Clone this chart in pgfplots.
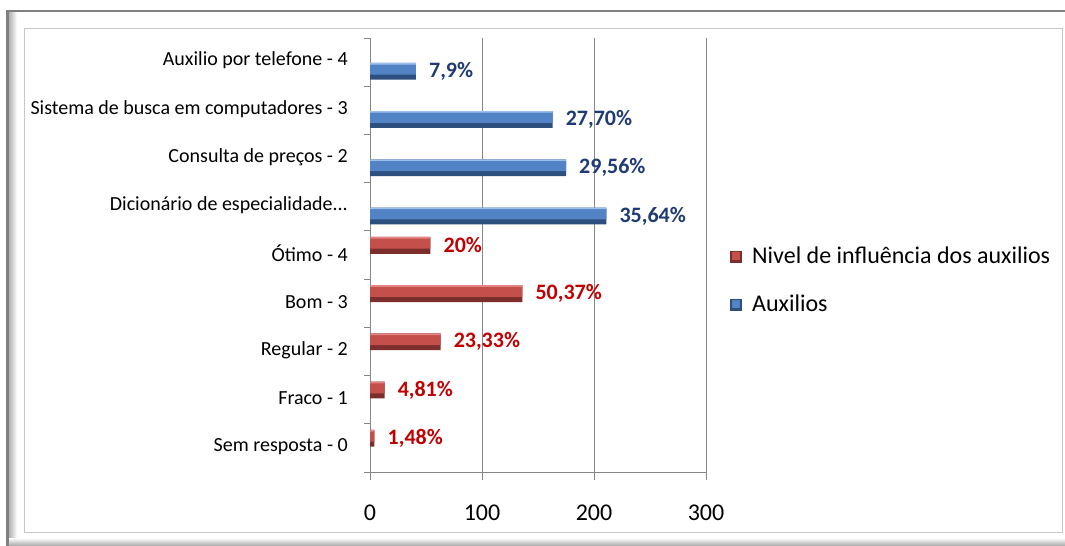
\documentclass[border=0pt]{standalone}
\usepackage{pgfplots}
\usepackage{pgfplotstable}
\pgfplotsset{compat=1.18}
\usepackage{fontspec}
\setmainfont{Carlito}
\definecolor{redlight}{HTML}{E48480}
\definecolor{redmid}{HTML}{C4504C}
\definecolor{reddark}{HTML}{7C2E2C}
\definecolor{bluelight}{HTML}{9BC0EE}
\definecolor{bluemid}{HTML}{5283C4}
\definecolor{bluedark}{HTML}{2C4F7E}
\definecolor{redlab}{HTML}{C00000}
\definecolor{bluelab}{HTML}{1F3B73}
\definecolor{gridc}{HTML}{878787}
\pgfplotstableread{
c v lab
0 4 1,48\%
1 13 4,81\%
2 63 23,33\%
3 136 50,37\%
4 54 20\%
}\redtab
\pgfplotstableread{
c v lab
5 211 35,64\%
6 175 29,56\%
7 163 27,70\%
8 41 7,9\%
}\bluetab
\begin{document}
\begin{tikzpicture}[x=1bp,y=1bp]
\fill[white] (0,0) rectangle (1065,-546);
\shade[left color=black!30, right color=white] (9,-12) rectangle (17,-546);
\shade[top color=white, bottom color=black!35] (9,-538) rectangle (1065,-546);
\fill[black!50] (6,-10) rectangle (1065,-12.5);
\fill[black!50] (6,-10) rectangle (9,-546);
\draw[black!22, line width=1bp] (24,-29) rectangle (1062,-532);
\begin{axis}[
  at={(370bp,-472bp)}, anchor=south west,
  scale only axis, width=336bp, height=434bp,
  xmin=0, xmax=300, ymin=-0.5, ymax=8.5,
  xbar,
  axis lines*=left,
  axis line style={gridc, line width=1bp},
  tick align=outside,
  xtick={0,100,200,300},
  /pgf/number format/assume math mode=true,
  xmajorgrids, major grid style={gridc, line width=1bp},
  major tick length=8bp, minor tick length=6bp,
  major x tick style={gridc, line width=1bp},
  major y tick style={draw=none},
  minor ytick={-0.5,0.5,1.5,2.5,3.5,4.5,5.5,6.5,7.5,8.5},
  minor y tick style={gridc, line width=1bp},
  ytick={0,1,2,3,4,5,6,7,8},
  yticklabels={Sem resposta - 0, Fraco - 1, Regular - 2, Bom - 3, Ótimo - 4, Dicionário de especialidade{.}{.}{.}, Consulta de preços - 2, Sistema de busca em computadores - 3, Auxilio por telefone - 4},
  yticklabel style={font=\fontsize{20bp}{24bp}\selectfont, inner sep=0pt, xshift=-14bp, yshift=1.5bp},
  xticklabel style={font=\fontsize{24bp}{28bp}\selectfont, inner sep=0pt, yshift=-25bp},
  legend style={at={(1.0714,0.44)}, anchor=west, draw=none, fill=none, inner sep=0pt,
    font=\fontsize{24bp}{28bp}\selectfont, row sep=26bp, column sep=10bp,
    nodes={inner sep=0pt, text height=17bp, text depth=5bp}},
  legend cell align=left,
]
% red series: base (dark), body, highlight
\addplot[xbar, bar width=0.35, bar shift=0.2, fill=reddark, draw=none,
  point meta=explicit symbolic, nodes near coords,
  nodes near coords style={font=\fontsize{22bp}{26bp}\selectfont\bfseries, inner sep=0pt, xshift=13bp, anchor=west, text=redlab},
  legend image code/.code={\fill[reddark] (0,-6bp) rectangle (12bp,6bp);
     \fill[redmid] (2bp,-3bp) rectangle (10bp,5bp);}]
  table[x=v, y=c, meta=lab] {\redtab};
\addlegendentry{Nivel de influência dos auxilios}
\addplot[xbar, bar width=0.23, bar shift=0.245, fill=redmid, draw=none, forget plot]
  table[x=v, y=c] {\redtab};
\addplot[xbar, bar width=0.035, bar shift=0.3575, fill=redlight, draw=none, forget plot]
  table[x=v, y=c] {\redtab};
% blue series
\addplot[xbar, bar width=0.35, bar shift=-0.19, fill=bluedark, draw=none,
  point meta=explicit symbolic, nodes near coords,
  nodes near coords style={font=\fontsize{22bp}{26bp}\selectfont\bfseries, inner sep=0pt, xshift=13bp, anchor=west, text=bluelab},
  legend image code/.code={\fill[bluedark] (0,-6bp) rectangle (12bp,6bp);
     \fill[bluemid] (2bp,-3bp) rectangle (10bp,5bp);}]
  table[x=v, y=c, meta=lab] {\bluetab};
\addlegendentry{Auxilios}
\addplot[xbar, bar width=0.23, bar shift=-0.145, fill=bluemid, draw=none, forget plot]
  table[x=v, y=c] {\bluetab};
\addplot[xbar, bar width=0.035, bar shift=-0.0325, fill=bluelight, draw=none, forget plot]
  table[x=v, y=c] {\bluetab};
\end{axis}
\end{tikzpicture}
\end{document}
